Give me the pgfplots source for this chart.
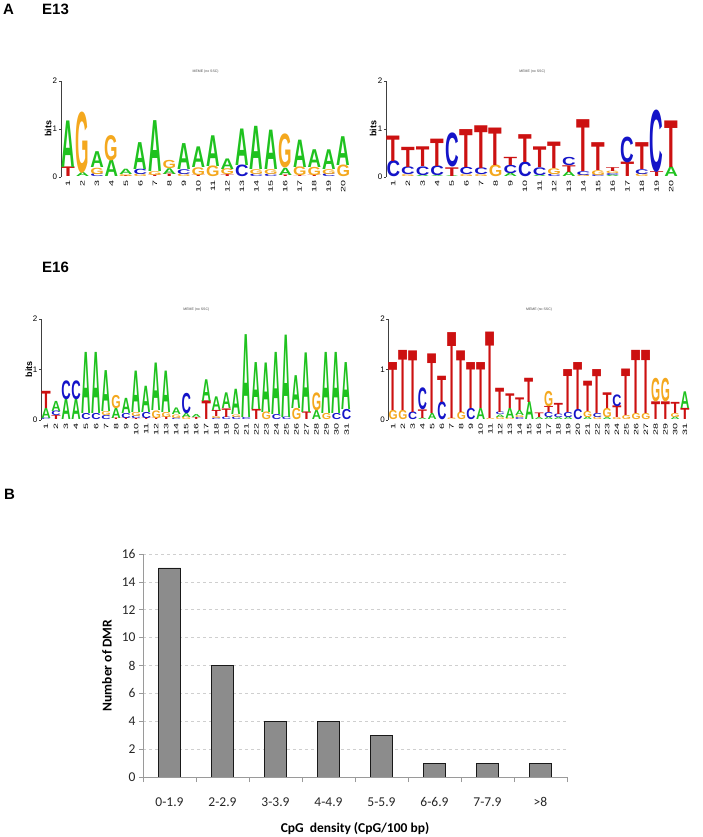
\documentclass[border=0pt]{standalone}
\usepackage{fontspec}
\setmainfont{Liberation Sans}
\newfontfamily\calibri{Carlito}
\usepackage{graphicx}
\usepackage{pgfplots}
\usepackage{pgfplotstable}
\pgfplotsset{compat=1.18}

\definecolor{nucA}{HTML}{1FC21F}
\definecolor{nucC}{HTML}{1414C8}
\definecolor{nucG}{HTML}{F4A81E}
\definecolor{nucT}{HTML}{CC1111}
\definecolor{barfill}{HTML}{8C8C8C}
\definecolor{axgray}{HTML}{9A9A9A}
\definecolor{gridgray}{HTML}{CFCFCF}

\newlength\bitu
\newlength\lwid

% letters of one column are listed bottom to top; base = running sum in that column
\def\lastx{-1}\def\runtop{0}
\pgfplotstableset{
  logo base/.style={create col/assign/.code={%
    \pgfmathparse{(\thisrow{x}==\lastx)*\runtop}%
    \let\curbase\pgfmathresult
    \pgfkeyslet{/pgfplots/table/create col/next content}\curbase
    \pgfmathparse{\curbase+\thisrow{h}}\xdef\runtop{\pgfmathresult}%
    \pgfmathparse{\thisrow{x}}\xdef\lastx{\pgfmathresult}%
  }}}

\pgfplotstableread{
x h L
1 0.20 T
1 0.97 A
2 0.08 A
2 1.26 G
3 0.06 C
3 0.13 G
3 0.33 A
4 0.34 A
4 0.52 G
5 0.02 T
5 0.04 G
5 0.11 A
6 0.05 G
6 0.11 C
6 0.56 A
7 0.03 T
7 0.08 G
7 1.06 A
8 0.05 T
8 0.12 A
8 0.17 G
9 0.05 G
9 0.10 C
9 0.54 A
10 0.03 T
10 0.16 G
10 0.43 A
11 0.22 G
11 0.64 A
12 0.04 T
12 0.12 G
12 0.22 A
13 0.24 C
13 0.76 A
14 0.05 C
14 0.10 G
14 0.90 A
15 0.05 C
15 0.10 G
15 0.82 A
16 0.03 T
16 0.15 A
16 0.70 G
17 0.02 T
17 0.18 G
17 0.57 A
18 0.03 T
18 0.17 G
18 0.37 A
19 0.06 C
19 0.10 G
19 0.41 A
20 0.24 G
20 0.60 A
}\logoA

\pgfplotstableread{
x h L
1 0.33 C
1 0.53 T
2 0.04 G
2 0.16 C
2 0.42 T
3 0.03 A
3 0.18 C
3 0.41 T
4 0.02 A
4 0.20 C
4 0.57 T
5 0.02 A
5 0.18 T
5 0.70 C
6 0.04 G
6 0.15 C
6 0.79 T
7 0.04 G
7 0.14 C
7 0.89 T
8 0.24 G
8 0.78 T
9 0.07 A
9 0.17 C
9 0.17 T
10 0.30 C
10 0.58 T
11 0.03 A
11 0.16 C
11 0.43 T
12 0.05 C
12 0.12 G
12 0.55 T
13 0.10 A
13 0.14 T
13 0.17 C
14 0.04 G
14 0.08 C
14 1.08 T
15 0.04 C
15 0.10 G
15 0.58 T
16 0.03 A
16 0.04 C
16 0.05 G
16 0.08 T
17 0.30 T
17 0.53 C
18 0.06 G
18 0.10 C
18 0.56 T
19 0.10 T
19 1.28 C
20 0.20 A
20 0.97 T
}\logoB

\pgfplotstableread{
x h L
1 0.03 C
1 0.20 A
1 0.34 T
2 0.08 T
2 0.09 C
2 0.20 A
3 0.40 A
3 0.37 C
4 0.40 A
4 0.37 C
5 0.12 C
5 1.21 A
6 0.12 C
6 1.21 A
7 0.08 C
7 0.08 G
7 0.81 A
8 0.03 T
8 0.20 A
8 0.26 G
9 0.03 T
9 0.10 C
9 0.30 A
10 0.02 T
10 0.05 C
10 0.08 G
10 0.82 A
11 0.03 T
11 0.12 C
11 0.52 A
12 0.03 T
12 0.15 G
12 0.94 A
13 0.05 T
13 0.10 G
13 0.82 A
14 0.03 C
14 0.07 G
14 0.13 A
15 0.05 G
15 0.08 A
15 0.40 C
16 0.04 T
16 0.06 A
17 0.37 T
17 0.43 A
18 0.03 C
18 0.04 G
18 0.12 T
18 0.27 A
19 0.05 C
19 0.17 T
19 0.31 A
20 0.05 C
20 0.05 G
20 0.50 A
21 0.04 C
21 1.64 A
22 0.20 T
22 0.93 A
23 0.15 G
23 0.98 A
24 0.10 C
24 1.23 A
25 0.05 C
25 1.63 A
26 0.22 G
26 0.65 A
27 0.15 T
27 1.18 A
28 0.18 A
28 0.35 G
29 0.12 G
29 1.21 A
30 0.12 C
30 1.21 A
31 0.20 C
31 0.93 A
}\logoC

\pgfplotstableread{
x h L
1 0.18 G
1 0.95 T
2 0.18 G
2 1.19 T
3 0.15 C
3 1.22 T
4 0.03 A
4 0.17 T
4 0.43 C
5 0.12 A
5 1.18 T
6 0.35 C
6 0.52 T
7 0.03 G
7 1.70 T
8 0.15 G
8 1.22 T
9 0.22 C
9 0.91 T
10 0.22 A
10 0.91 T
11 0.02 G
11 1.71 T
12 0.05 G
12 0.05 A
12 0.05 C
12 0.48 T
13 0.03 G
13 0.20 A
13 0.29 T
14 0.04 C
14 0.04 G
14 0.10 A
14 0.25 T
15 0.35 A
15 0.48 T
16 0.04 A
16 0.09 T
17 0.05 A
17 0.10 C
17 0.12 T
17 0.30 G
18 0.04 A
18 0.07 C
18 0.22 T
19 0.05 A
19 0.10 C
19 0.85 T
20 0.20 C
20 0.93 T
21 0.05 A
21 0.12 G
21 0.60 T
22 0.05 G
22 0.08 C
22 0.87 T
23 0.04 A
23 0.18 G
23 0.31 T
24 0.04 G
24 0.23 T
24 0.23 C
25 0.08 G
25 0.92 T
26 0.12 G
26 1.25 T
27 0.12 G
27 1.25 T
28 0.35 T
28 0.46 G
29 0.35 T
29 0.46 G
30 0.05 A
30 0.08 G
30 0.22 T
31 0.22 T
31 0.33 A
}\logoD

\def\lastx{-1}\pgfplotstablecreatecol[logo base]{base}{\logoA}
\def\lastx{-1}\pgfplotstablecreatecol[logo base]{base}{\logoB}
\def\lastx{-1}\pgfplotstablecreatecol[logo base]{base}{\logoC}
\def\lastx{-1}\pgfplotstablecreatecol[logo base]{base}{\logoD}

\pgfplotsset{
  logo/.style={
    scale only axis, clip=false,
    xmin=0.5, ymin=0, ymax=2,
    axis y line*=left, axis x line*=bottom,
    x axis line style={draw=none},
    y axis line style={line width=0.5pt, black!75},
    major x tick style={draw=none},
    ytick={0,1,2},
    ytick style={line width=0.5pt, black!75},
    tick align=outside, major tick length=2pt,
    /pgf/number format/assume math mode=true,
    y tick label style={font=\fontsize{8}{9}\selectfont, inner sep=1.5pt},
    xticklabel={\scalebox{1.7}[1]{\pgfmathprintnumber{\tick}}},
    x tick label style={font=\fontsize{6.3}{7}\selectfont, rotate=90, anchor=east, inner sep=1pt},
    title style={font=\fontsize{3.5}{4}\selectfont, text=black!70, yshift=-2pt},
    ylabel style={font=\bfseries\fontsize{9}{10}\selectfont},
  },
  letters/.style={
    draw=none, mark=none,
    point meta=explicit symbolic,
    visualization depends on={\thisrow{h}\as\lhgt},
    nodes near coords={\color{nuc\pgfplotspointmeta}\resizebox{\lwid}{\lhgt\bitu}{\bfseries\pgfplotspointmeta}},
    every node near coord/.append style={anchor=south, inner sep=0pt, outer sep=0pt},
  },
}

\begin{document}
\begin{tikzpicture}
\path[use as bounding box] (0pt,0pt) rectangle (702pt,837pt);

\node[font=\bfseries\fontsize{15}{18}\selectfont, anchor=base west, inner sep=0pt] at (3pt,822pt) {A};
\node[font=\bfseries\fontsize{15}{18}\selectfont, anchor=base west, inner sep=0pt] at (42pt,822pt) {E13};
\node[font=\bfseries\fontsize{15}{18}\selectfont, anchor=base west, inner sep=0pt] at (42pt,564pt) {E16};
\node[font=\bfseries\fontsize{15}{18}\selectfont, anchor=base west, inner sep=0pt] at (4pt,337pt) {B};

% E13, left logo
\setlength\bitu{48pt}\setlength\lwid{13.5pt}
\begin{axis}[logo, at={(60.8pt,660pt)}, anchor=south west,
  width=289.7pt, height=96pt, xmax=20.5, xtick={1,...,20},
  title={MEME (no SSC)},
  ylabel={bits}, ylabel style={at={(axis description cs:-0.044,0.5)}, anchor=center}]
\addplot[letters] table[x=x, y=base, meta=L] {\logoA};
\end{axis}

% E13, right logo
\setlength\bitu{48pt}\setlength\lwid{13.6pt}
\begin{axis}[logo, at={(386pt,660pt)}, anchor=south west,
  width=292.6pt, height=96pt, xmax=20.5, xtick={1,...,20},
  title={MEME (no SSC)},
  ylabel={bits}, ylabel style={at={(axis description cs:-0.044,0.5)}, anchor=center}]
\addplot[letters] table[x=x, y=base, meta=L] {\logoB};
\end{axis}

% E16, left logo
\setlength\bitu{50.5pt}\setlength\lwid{9.4pt}
\begin{axis}[logo, at={(41pt,417pt)}, anchor=south west,
  width=310.6pt, height=101pt, xmax=31.5, xtick={1,...,31},
  title={MEME (no SSC)},
  ylabel={bits}, ylabel style={at={(axis description cs:-0.039,0.5)}, anchor=center}]
\addplot[letters] table[x=x, y=base, meta=L] {\logoC};
\end{axis}

% E16, right logo
\setlength\bitu{50.5pt}\setlength\lwid{9.1pt}
\begin{axis}[logo, at={(388.4pt,417pt)}, anchor=south west,
  width=301.3pt, height=101pt, xmax=31.5, xtick={1,...,31},
  title={MEME (no SSC)}]
\addplot[letters] table[x=x, y=base, meta=L] {\logoD};
\end{axis}

% B: CpG density histogram
\begin{axis}[at={(143pt,60pt)}, anchor=south west, scale only axis,
  width=424pt, height=223pt,
  xmin=0, xmax=8, ymin=0, ymax=16,
  axis lines=left, axis line style={-, axgray, line width=0.7pt},
  xtick={0.5,1.5,...,7.5},
  xticklabels={0-1.9,2-2.9,3-3.9,4-4.9,5-5.9,6-6.9,7-7.9,>8},
  major x tick style={draw=none},
  minor xtick={0,1,...,8},
  minor x tick style={axgray, line width=0.7pt}, minor tick length=5pt,
  ytick={0,2,...,16}, major y tick style={axgray, line width=0.7pt},
  major tick length=4pt, tick align=outside,
  ymajorgrids, grid style={gridgray, dash pattern=on 3pt off 3pt, line width=0.6pt},
  /pgf/number format/assume math mode=true,
  tick label style={font=\calibri\fontsize{13.5}{16}\selectfont, text=black!85},
  xticklabel style={anchor=base, yshift=-25pt},
  xlabel={CpG~~density (CpG/100 bp)},
  xlabel style={font=\calibri\bfseries\fontsize{13.5}{16}\selectfont, at={(axis description cs:0.5,0)}, anchor=base, yshift=-55.5pt},
  ylabel={Number of DMR},
  ylabel style={font=\calibri\bfseries\fontsize{13.5}{16}\selectfont, at={(axis description cs:-0.085,0.5)}, anchor=center},
]
\addplot[ybar, bar width=22pt, fill=barfill, draw=black!90, line width=0.8pt]
  coordinates {(0.5,15) (1.5,8) (2.5,4) (3.5,4) (4.5,3) (5.5,1) (6.5,1) (7.5,1)};
\end{axis}
\end{tikzpicture}
\end{document}
